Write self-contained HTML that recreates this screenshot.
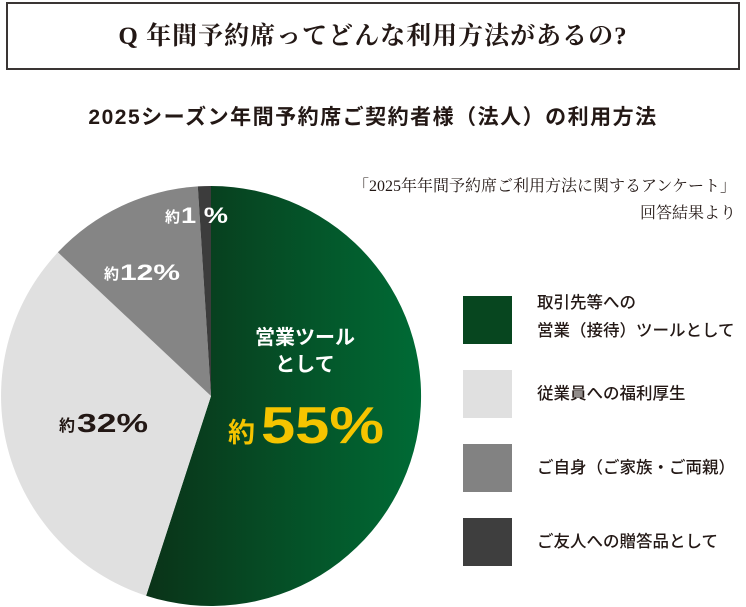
<!DOCTYPE html>
<html><head><meta charset="utf-8"><style>
body{margin:0;width:746px;height:607px;background:#fff;position:relative;overflow:hidden;font-family:"Liberation Sans","Noto Sans CJK JP",sans-serif;color:#231815}
.box{position:absolute;left:6px;top:2px;width:730px;height:64px;border:2px solid #3a3534;box-sizing:content-box}
.q{position:absolute;left:0;right:0;top:16px;text-align:center;font-family:"Liberation Serif","Noto Serif CJK SC",serif;font-size:25px;font-weight:bold;letter-spacing:1px}
.sub{position:absolute;left:0;width:746px;top:101px;text-align:center;font-size:21px;font-weight:bold;letter-spacing:1.5px}
.note{position:absolute;right:10px;top:173px;text-align:right;font-family:"Liberation Serif","Noto Serif CJK SC",serif;font-size:16px;line-height:27px}
.sq{position:absolute;left:463px;width:49px;height:48px}
.lt{position:absolute;left:537px;font-size:16.5px;font-weight:500;line-height:28px}
</style></head><body>
<div class="box"></div>
<div class="q">Q 年間予約席ってどんな利用方法があるの?</div>
<div class="sub">2025シーズン年間予約席ご契約者様（法人）の利用方法</div>
<div class="note">「2025年年間予約席ご利用方法に関するアンケート」<br>回答結果より</div>
<svg width="746" height="607" style="position:absolute;left:0;top:0">
<defs><linearGradient id="g" x1="0" x2="1" y1="0" y2="0"><stop offset="0" stop-color="#0a3318"/><stop offset="1" stop-color="#006b35"/></linearGradient></defs>
<path d="M211,396 L211,186 A210,210 0 1 1 146.1,595.7 Z" fill="url(#g)"/>
<path d="M211,396 L146.1,595.7 A210,210 0 0 1 57.9,252.3 Z" fill="#e0e0e0"/>
<path d="M211,396 L57.9,252.3 A210,210 0 0 1 197.8,186.4 Z" fill="#858585"/>
<path d="M211,396 L197.8,186.4 A210,210 0 0 1 211,186 Z" fill="#3c3c3c"/>
<g font-family="Liberation Sans,Noto Sans CJK JP,sans-serif" font-weight="bold">
<text x="305" y="344" fill="#fff" font-size="20" text-anchor="middle">営業ツール</text>
<text x="305" y="371" fill="#fff" font-size="20" text-anchor="middle">として</text>
<text x="228" y="442" fill="#f5c400" font-size="27">約</text>
<text x="261" y="443" fill="#f5c400" font-size="52" textLength="123" lengthAdjust="spacingAndGlyphs">55%</text>
<text x="59" y="431" fill="#231815" font-size="16">約</text>
<text x="77" y="432" fill="#231815" font-size="26" textLength="71" lengthAdjust="spacingAndGlyphs">32%</text>
<text x="104" y="279" fill="#fff" font-size="15">約</text>
<text x="120" y="280" fill="#fff" font-size="22" textLength="60" lengthAdjust="spacingAndGlyphs">12%</text>
<text x="165" y="222" fill="#fff" font-size="15">約</text>
<text x="181" y="223" fill="#fff" font-size="22" textLength="47" lengthAdjust="spacingAndGlyphs">1 %</text>
</g>
</svg>
<div class="sq" style="top:296px;background:#07461f"></div>
<div class="sq" style="top:370px;background:#e0e0e0"></div>
<div class="sq" style="top:444px;background:#828282"></div>
<div class="sq" style="top:518px;background:#3e3e3e"></div>
<div class="lt" style="top:289px">取引先等への<br>営業（接待）ツールとして</div>
<div class="lt" style="top:380px">従業員への福利厚生</div>
<div class="lt" style="top:454px">ご自身（ご家族・ご両親）</div>
<div class="lt" style="top:528px">ご友人への贈答品として</div>
</body></html>
